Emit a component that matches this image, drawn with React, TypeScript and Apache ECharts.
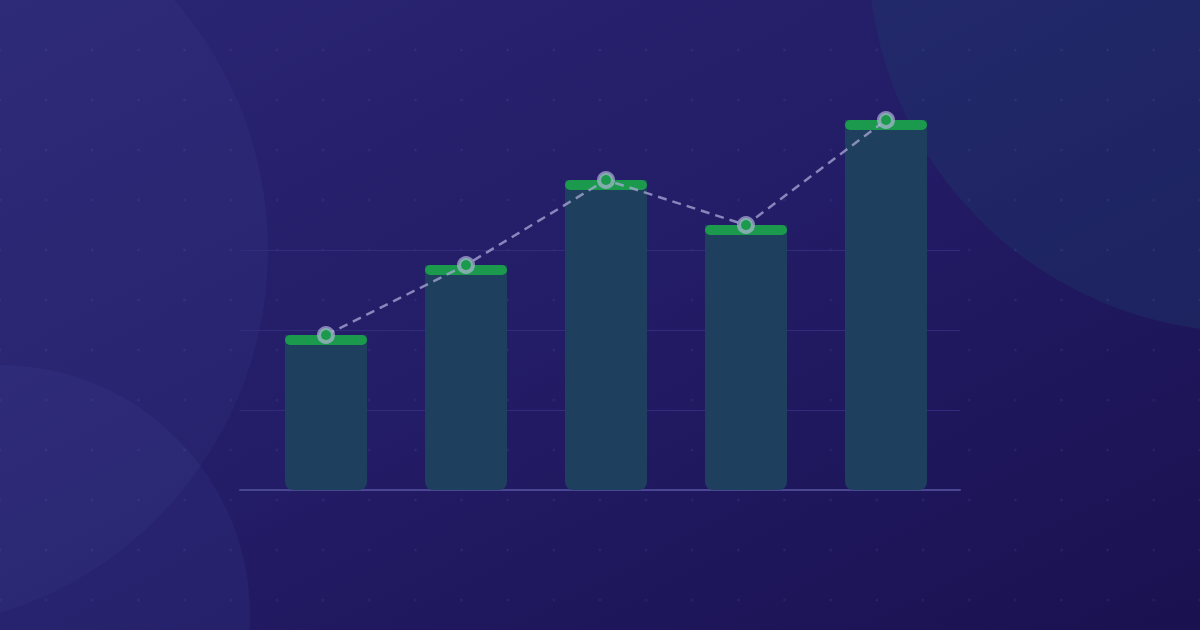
import React, { useEffect, useRef } from "react";
import * as echarts from "echarts";

// chart data (no visible labels in the picture, so categories are placeholders)
const categories = ["A", "B", "C", "D", "E"];
const barValues = [38.75, 56.25, 77.5, 66.25, 92.5];
const lineValues = [38.75, 56.25, 77.5, 66.25, 92.5];
const guideMax = 60;
const guideStep = 20;

const W = 1200;
const H = 630;

const App: React.FC = () => {
  const chartRef = useRef<HTMLDivElement>(null);

  useEffect(() => {
    if (!chartRef.current) return;

    const chart = echarts.init(chartRef.current, undefined, { renderer: "svg" });

    // faint dot grid + soft circles behind the chart
    const dots: any[] = [];
    for (let i = 0; i <= 26; i++) {
      for (let j = 1; j <= 12; j++) {
        dots.push({
          type: "circle",
          silent: true,
          z: 0,
          shape: { cx: i * 46.15, cy: j * 50, r: 1.5 },
          style: { fill: "rgba(150,150,230,0.09)" },
        });
      }
    }

    const option: echarts.EChartsOption = {
      animation: false,
      backgroundColor: new echarts.graphic.LinearGradient(0, 0, 1, 1, [
        { offset: 0, color: "#2b2674" },
        { offset: 0.5, color: "#231c66" },
        { offset: 1, color: "#1a1150" },
      ]),
      graphic: [
        {
          type: "circle",
          silent: true,
          z: 0,
          shape: { cx: -112, cy: 250, r: 380 },
          style: { fill: "rgba(70,80,160,0.12)" },
        },
        {
          type: "circle",
          silent: true,
          z: 0,
          shape: { cx: 0, cy: 615, r: 250 },
          style: { fill: "rgba(70,80,160,0.14)" },
        },
        {
          type: "circle",
          silent: true,
          z: 0,
          shape: { cx: 1250, cy: -50, r: 382 },
          style: { fill: "rgba(30,60,105,0.35)" },
        },
        ...dots,
      ],
      grid: [
        { left: 256, width: 700, top: 90, height: 400 },
        { left: 240, width: 720, top: 250, height: 240 },
      ],
      xAxis: [
        {
          type: "category",
          gridIndex: 0,
          data: categories,
          show: false,
        },
        {
          type: "value",
          gridIndex: 1,
          min: 0,
          max: 1,
          z: 1,
          axisLine: { show: true, lineStyle: { color: "#4a4792", width: 2 } },
          axisTick: { show: false },
          axisLabel: { show: false },
          splitLine: { show: false },
        },
      ],
      yAxis: [
        { type: "value", gridIndex: 0, min: 0, max: 100, show: false },
        {
          type: "value",
          gridIndex: 1,
          min: 0,
          max: guideMax,
          interval: guideStep,
          z: 1,
          axisLine: { show: false },
          axisTick: { show: false },
          axisLabel: { show: false },
          splitLine: {
            show: true,
            lineStyle: {
              color: ["rgba(0,0,0,0)", "#312c7c", "#312c7c", "#312c7c"],
              width: 1,
            },
          },
        },
      ],
      series: [
        {
          type: "custom",
          xAxisIndex: 0,
          yAxisIndex: 0,
          z: 2,
          data: barValues,
          renderItem: (params: any, api: any) => {
            const idx = params.dataIndex;
            const top = api.coord([idx, api.value(0)]);
            const base = api.coord([idx, 0]);
            const w = 82;
            const x = top[0] - w / 2;
            return {
              type: "group",
              children: [
                {
                  type: "rect",
                  shape: { x, y: top[1], width: w, height: base[1] - top[1], r: [0, 0, 8, 8] },
                  style: { fill: "#1e3f5e" },
                },
                {
                  type: "rect",
                  shape: { x, y: top[1], width: w, height: 10, r: 5 },
                  style: { fill: "#1b9a4e" },
                },
              ],
            };
          },
          encode: { x: -1, y: 0 },
        } as any,
        {
          type: "line",
          xAxisIndex: 0,
          yAxisIndex: 0,
          z: 3,
          data: lineValues,
          symbol: "circle",
          symbolSize: 14,
          lineStyle: { color: "rgba(170,170,215,0.75)", width: 2.5, type: [9, 6] },
          itemStyle: {
            color: "#1b9a4e",
            borderColor: "rgba(185,185,225,0.65)",
            borderWidth: 4,
          },
        },
      ],
    };

    chart.setOption(option);

    return () => {
      chart.dispose();
    };
  }, []);

  return (
    <div
      ref={chartRef}
      style={{ position: "fixed", left: 0, top: 0, width: W, height: H }}
    />
  );
};

export default App;
